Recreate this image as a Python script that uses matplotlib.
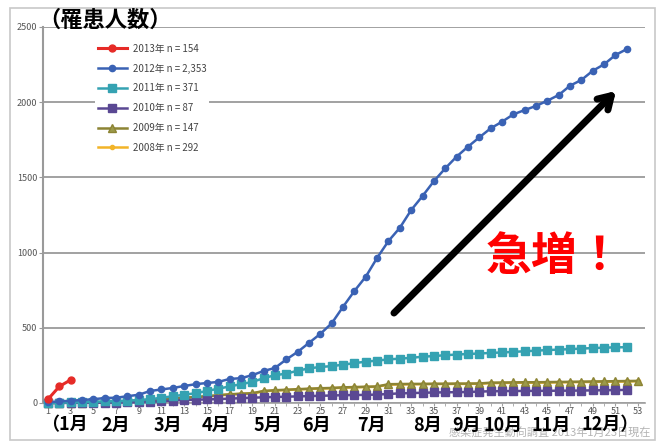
import numpy as np
import matplotlib
matplotlib.use('Agg')
from matplotlib import pyplot as plt
from matplotlib.patches import Rectangle

plt.rcParams['font.family'] = ['Noto Sans CJK JP', 'DejaVu Sans']

# weekly cumulative counts
y2013 = [25, 110, 154]
y2012 = [5, 10, 15, 20, 25, 33, 35, 45, 55, 80, 90, 100, 113, 125, 133, 140, 160, 165,
         185, 213, 233, 290, 340, 400, 460, 530, 640, 745, 840, 965, 1077, 1165, 1283,
         1376, 1475, 1560, 1638, 1704, 1766, 1826, 1870, 1919, 1948, 1975, 2010, 2048,
         2110, 2148, 2209, 2252, 2314, 2353]
y2011 = [0, 2, 4, 6, 8, 10, 12, 15, 20, 25, 35, 45, 55, 65, 80, 95, 110, 125, 140, 165,
         185, 195, 215, 230, 240, 245, 255, 265, 275, 282, 290, 295, 300, 308, 312, 318,
         322, 326, 329, 333, 336, 340, 344, 348, 352, 355, 358, 362, 365, 368, 370, 371]
y2010 = [0, 0, 1, 1, 2, 2, 3, 4, 5, 8, 12, 16, 20, 22, 24, 26, 29, 32, 35, 38, 40, 42,
         44, 46, 48, 50, 52, 53, 54, 56, 60, 64, 66, 68, 70, 71, 72, 73, 76, 78, 79, 80,
         80, 81, 81, 82, 82, 83, 84, 85, 86, 87]
y2009 = [0, 1, 2, 3, 5, 7, 9, 12, 16, 20, 25, 30, 35, 40, 45, 52, 58, 62, 65, 80, 85,
         88, 92, 95, 98, 100, 104, 106, 108, 110, 125, 126, 127, 127, 128, 128, 129, 129,
         130, 135, 136, 137, 138, 138, 139, 140, 141, 142, 143, 144, 145, 146, 147]
y2008 = [0, 1, 2, 3, 4, 6, 8, 11, 15, 19, 24, 29, 34, 39, 44, 50, 56, 60, 63, 78, 83,
         86, 90, 93, 96, 98, 102, 104, 106, 108, 122, 123, 124, 125, 126, 126, 127, 127,
         128, 132, 133, 134, 135, 135, 136, 137, 138, 139, 140, 141, 142, 143, 145]

labels = ['2013年 n = 154', '2012年 n = 2,353', '2011年 n = 371',
          '2010年 n = 87', '2009年 n = 147', '2008年 n = 292']
months = ['（1月', '2月', '3月', '4月', '5月', '6月', '7月', '8月', '9月', '10月', '11月', '12月）']
month_x = [64, 116, 168, 216, 268, 316, 371, 427, 467, 503, 551, 610]   # pixel centres

fig = plt.figure(figsize=(6.57, 4.45), dpi=100)
fig.patches.append(Rectangle((10/657, 5/445), 645/657, 432/445, transform=fig.transFigure,
                             fill=False, edgecolor='#c8c8c8', lw=1.2))
ax = fig.add_axes([43/657, 1 - 403/445, 602/657, 376/445])

def wk(v):
    return np.arange(1, len(v) + 1)

ax.plot(wk(y2008), y2008, color='#f2b428', lw=1.8, marker='o', ms=3, label=labels[5], clip_on=False, zorder=3)
ax.plot(wk(y2009), y2009, color='#8c8434', lw=1.8, marker='^', ms=5.5, mfc='#9c9a4a', label=labels[4], clip_on=False, zorder=4)
ax.plot(wk(y2010), y2010, color='#5a4893', lw=1.8, marker='s', ms=6, label=labels[3], clip_on=False, zorder=5)
ax.plot(wk(y2011), y2011, color='#35a2b2', lw=1.8, marker='s', ms=6, label=labels[2], clip_on=False, zorder=6)
ax.plot(wk(y2012), y2012, color='#3a62b4', lw=1.8, marker='o', ms=4.5, label=labels[1], clip_on=False, zorder=7)
ax.plot(wk(y2013), y2013, color='#e62b27', lw=2.2, marker='o', ms=5, label=labels[0], clip_on=False, zorder=8)

ax.set_xlim(0.56, 53.6)
ax.set_ylim(0, 2500)
ax.set_yticks(np.arange(0, 2501, 500))
ax.set_xticks(np.arange(1, 54, 2))
ax.set_xticks(np.arange(1, 54), minor=True)
ax.grid(axis='y', color='#9a9a9a', lw=1.3)
ax.set_axisbelow(True)
for s in ['top', 'right']:
    ax.spines[s].set_visible(False)
ax.spines['left'].set_color('#9a9a9a')
ax.spines['left'].set_linewidth(1.5)
ax.spines['bottom'].set_color('#a0a0a0')
ax.spines['bottom'].set_linewidth(1.2)
ax.tick_params(axis='y', labelsize=6.5, colors='#9a9a9a', labelcolor='#555555', length=3, pad=1)
ax.tick_params(axis='x', which='both', labelsize=6.5, colors='#a0a0a0', labelcolor='#555555', length=2, pad=1)

h, l = ax.get_legend_handles_labels()
leg = ax.legend(h[::-1], l[::-1], loc='upper left', bbox_to_anchor=(90/657, 1 - 36/445),
                bbox_transform=fig.transFigure, frameon=True, facecolor='white', edgecolor='none',
                framealpha=1, fontsize=7, labelspacing=1.0, handlelength=3, handletextpad=0.6,
                borderpad=0.3)
for t in leg.get_texts():
    t.set_color('#444444')

fig.text(38/657, 1 - 20/445, '（罹患人数）', fontsize=16, fontweight='bold', ha='left', va='center')
for m, x in zip(months, month_x):
    fig.text(x/657, 1 - 425/445, m, fontsize=13, fontweight='bold', ha='center', va='center', zorder=5)
fig.text(650/657, 1 - 433/445, '感染症発生動向調査 2013年1月23日現在', fontsize=8,
         color='#b4b4b4', ha='right', va='center', zorder=1)

ax.annotate('', xy=(618/657, 1 - 89/445), xytext=(392/657, 1 - 315/445),
            xycoords='figure fraction', textcoords='figure fraction',
            arrowprops=dict(arrowstyle='->,head_length=0.9,head_width=0.55', color='black',
                            lw=5, capstyle='round', joinstyle='round'))
fig.text(554/657, 1 - 257/445, '急増！', fontsize=33, fontweight='bold', color='#ff0000',
         ha='center', va='center')

fig.savefig('out.png', dpi=100)
